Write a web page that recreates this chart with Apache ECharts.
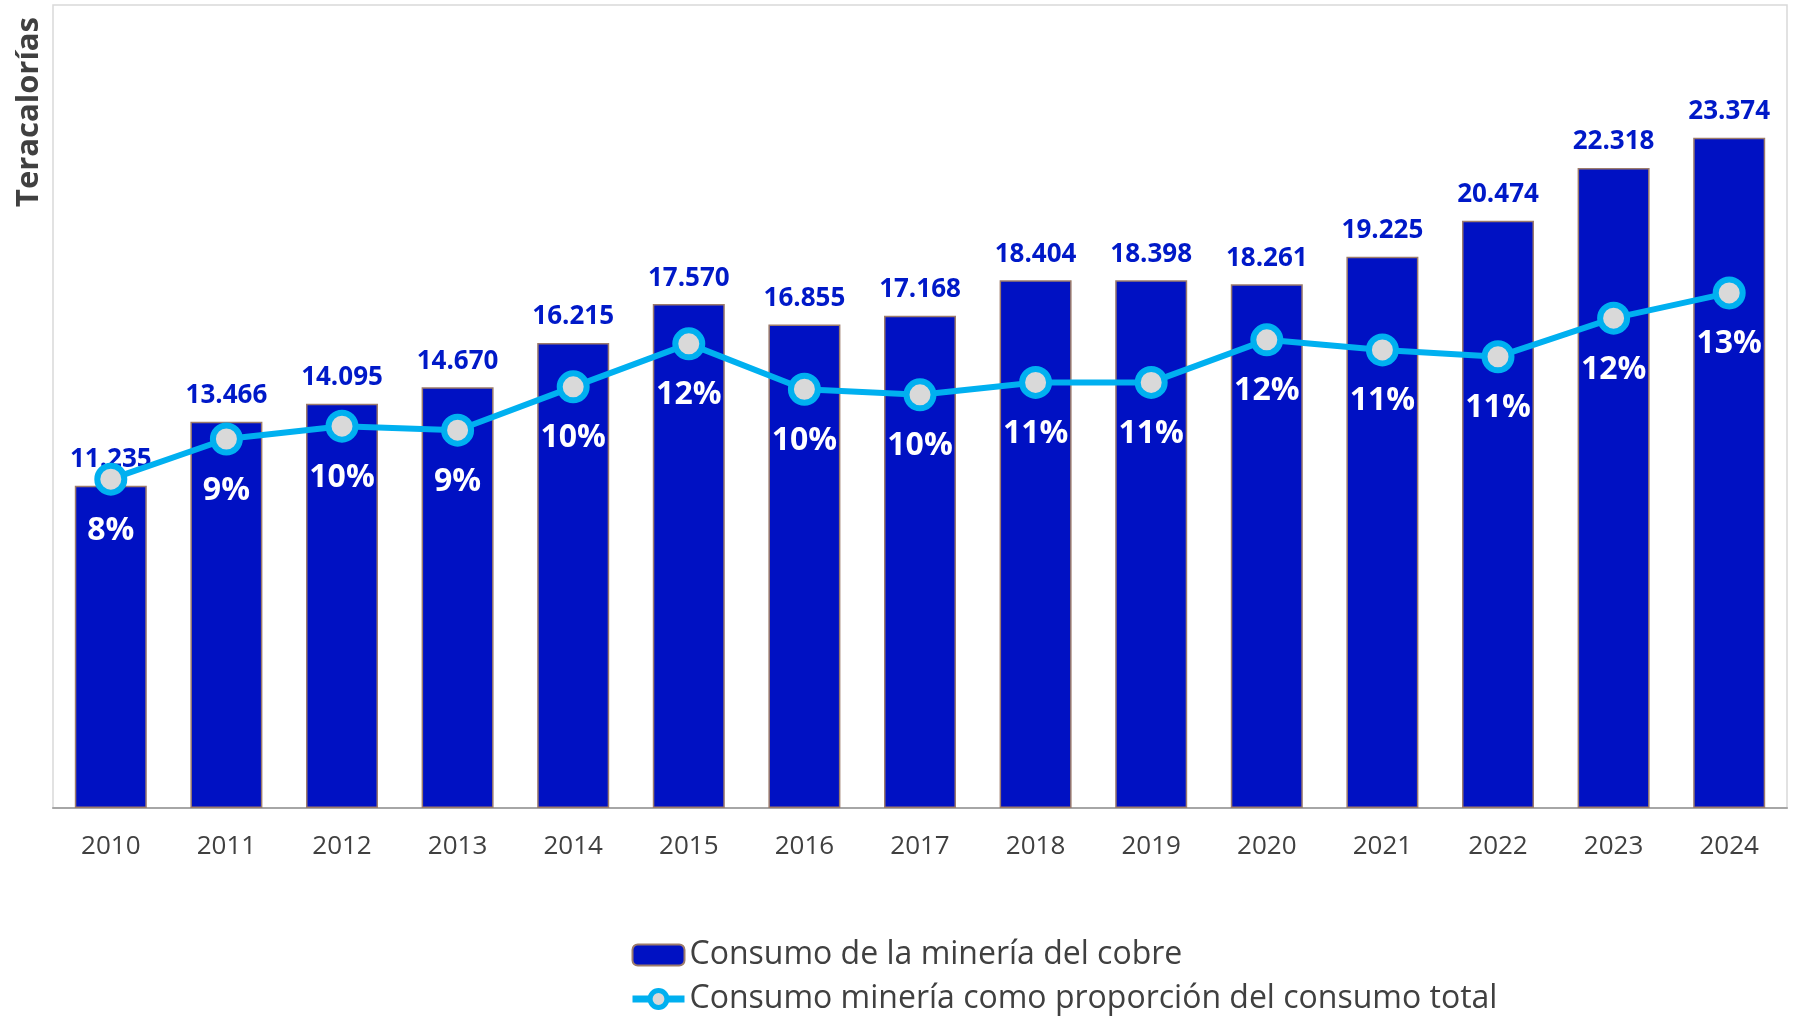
<!DOCTYPE html>
<html>
<head>
<meta charset="utf-8">
<script src="https://cdn.jsdelivr.net/npm/echarts@6/dist/echarts.min.js"></script>
<style>
html,body{margin:0;padding:0;background:#fff;}
#chart{width:1797px;height:1016px;}
</style>
</head>
<body>
<div id="chart"></div>
<script>
const years = ['2010','2011','2012','2013','2014','2015','2016','2017','2018','2019','2020','2021','2022','2023','2024'];
const consumo = [11235,13466,14095,14670,16215,17570,16855,17168,18404,18398,18261,19225,20474,22318,23374];
const proporcion = [8.19,9.19,9.51,9.41,10.49,11.56,10.43,10.29,10.60,10.60,11.66,11.41,11.24,12.20,12.83];
const serieBarras = 'Consumo de la minería del cobre';
const serieLinea = 'Consumo minería como proporción del consumo total';
const tituloEje = 'Teracalorías';

function fmtMiles(v){
  return String(v).replace(/\B(?=(\d{3})+(?!\d))/g, '.');
}

const chart = echarts.init(document.getElementById('chart'), null, {renderer:'canvas'});
chart.setOption({
  animation:false,
  backgroundColor:'#ffffff',
  textStyle:{fontFamily:'Open Sans'},
  grid:{left:53,right:10,top:5,bottom:208,show:true,borderColor:'#d9d9d9',borderWidth:1.5,containLabel:false},
  graphic:[{
    type:'text', left:14, top:17, rotation:Math.PI/2,
    style:{text:tituloEje, fill:'#404040', font:'bold 31px "Open Sans"'}
  }],
  legend:{
    orient:'vertical', left:629, top:939, padding:0, height:77, itemWidth:52, itemHeight:21, itemGap:12,
    textStyle:{fontFamily:'Open Sans', fontSize:32, color:'#404040', padding:[0,0,0,0]},
    data:[
      {name:serieBarras},
      {name:serieLinea, lineStyle:{width:7}, itemStyle:{borderWidth:5}}
    ]
  },
  xAxis:{
    type:'category', data:years,
    axisLine:{lineStyle:{color:'#a6a6a6',width:2}},
    axisTick:{length:9,lineStyle:{color:'#a6a6a6',width:1.5}},
    axisLabel:{fontSize:26,color:'#404040',margin:26,fontFamily:'Open Sans'}
  },
  yAxis:[
    {type:'value',min:0,max:28000,show:false,splitLine:{show:false}},
    {type:'value',min:0,max:20,show:false,splitLine:{show:false}}
  ],
  series:[
    {
      name:serieBarras, type:'bar', data:consumo, barWidth:72, yAxisIndex:0,
      itemStyle:{color:'#0011c3',borderColor:'#9c7b6b',borderWidth:1.5},
      label:{show:true,position:'top',distance:13,color:'#0019c8',fontWeight:'bold',fontSize:26,fontFamily:'Open Sans',
        formatter:p=>fmtMiles(p.value)}
    },
    {
      name:serieLinea, type:'line', data:proporcion, yAxisIndex:1,
      symbol:'circle', symbolSize:27, z:5,
      lineStyle:{color:'#00b0f0',width:6},
      itemStyle:{color:'#d9d9d9',borderColor:'#00b0f0',borderWidth:6},
      label:{show:true,position:'bottom',distance:19,color:'#ffffff',fontWeight:'bold',fontSize:32,fontFamily:'Open Sans',
        formatter:p=>Math.round(p.value)+'%'}
    }
  ]
});
</script>
</body>
</html>
